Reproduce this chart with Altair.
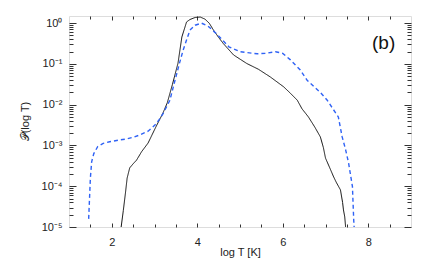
import altair as alt
import pandas as pd

# ---- data (log10 of probability) ----
black_x = [2.22, 2.27, 2.32, 2.36, 2.42, 2.50, 2.58, 2.70, 2.85, 3.03, 3.20, 3.30, 3.42, 3.55, 3.64, 3.75, 3.83,
           3.95, 4.07, 4.18, 4.28, 4.38, 4.50, 4.61, 4.85, 5.16, 5.43, 5.71, 6.02, 6.18, 6.34, 6.45, 6.60,
           6.75, 6.88, 6.95, 7.00, 7.10, 7.19, 7.25, 7.35, 7.40, 7.42, 7.45, 7.47]
black_logy = [-5.0, -4.6, -4.17, -3.8, -3.55, -3.45, -3.36, -3.15, -2.94, -2.55, -2.2, -1.95, -1.5, -0.98,
              -0.34, 0.03, 0.09, 0.14, 0.15, 0.10, 0.0, -0.17, -0.35, -0.50, -0.78, -0.99, -1.13, -1.32,
              -1.56, -1.72, -1.89, -2.10, -2.30, -2.55, -2.79, -3.05, -3.31, -3.55, -3.77, -3.90, -4.09,
              -4.40, -4.58, -4.75, -5.0]

blue_x = [1.46, 1.48, 1.50, 1.53, 1.58, 1.67, 1.80, 1.95, 2.15, 2.35, 2.50, 2.66, 2.85, 3.01, 3.10, 3.20,
          3.36, 3.48, 3.58, 3.67, 3.76, 3.83, 3.95, 4.10, 4.25, 4.46, 4.74, 5.00, 5.40, 5.60, 5.83, 6.00,
          6.18, 6.41, 6.57, 6.88, 7.04, 7.30, 7.39, 7.47, 7.54, 7.63, 7.66, 7.67]
blue_logy = [-4.8, -4.3, -3.8, -3.4, -3.2, -3.03, -2.95, -2.91, -2.87, -2.84, -2.80, -2.74, -2.65, -2.50,
             -2.38, -2.22, -1.89, -1.40, -1.0, -0.66, -0.38, -0.17, -0.05, 0.0, -0.07, -0.27, -0.58, -0.70,
             -0.75, -0.74, -0.70, -0.74, -0.90, -1.15, -1.40, -1.70, -1.89, -2.30, -2.79, -3.10, -3.43,
             -4.01, -4.83, -5.0]

x_major = [2, 4, 6, 8]
x_minor = [1.5, 2.5, 3, 3.5, 4.5, 5, 5.5, 6.5, 7, 7.5, 8.5]
y_major = [1e-5, 1e-4, 1e-3, 1e-2, 1e-1, 1]
y_minor = [m * 10 ** e for e in range(-5, 1) for m in range(2, 10) if m * 10 ** e <= 1.5]

panel_label = ["(b)"]
panel_label_x = [8.36]
panel_label_y = [0.32]

rows = []
for x, ly in zip(black_x, black_logy):
    rows.append({"x": x, "y": 10 ** ly, "s": "black"})
for x, ly in zip(blue_x, blue_logy):
    rows.append({"x": x, "y": 10 ** ly, "s": "blue"})
df = pd.DataFrame(rows)
df_label = pd.DataFrame({"x": panel_label_x, "y": panel_label_y, "t": panel_label})

FONT = "Liberation Sans"
FRAME = "#444444"
TICK = "#333333"
xs = alt.Scale(domain=[1, 9], nice=False, zero=False)
ys = alt.Scale(type="log", domain=[1e-5, 1.5], nice=False)

sup_expr = ("'10' + ['\u2070','\u207b\u00b9','\u207b\u00b2','\u207b\u00b3','\u207b\u2074','\u207b\u2075']"
            "[-round(log(datum.value)/LN10)]")

# main layer with lines and labelled axes
lines = alt.Chart(df).mark_line(clip=True).encode(
    x=alt.X("x:Q", scale=xs, axis=alt.Axis(
        orient="bottom", values=x_major, format="d", tickSize=0, labelPadding=9, domain=False, grid=False,
        labelFont=FONT, labelFontSize=11, labelColor="#222",
        title="log T [K]", titleFont=FONT, titleFontSize=11, titleFontWeight="normal", titleColor="#222",
        titleY=25, titleBaseline="middle")),
    y=alt.Y("y:Q", scale=ys, axis=alt.Axis(
        orient="left", values=y_major, labelExpr=sup_expr, tickSize=0, labelPadding=7, domain=False,
        grid=False, labelFont=FONT, labelFontSize=11, labelColor="#222",
        title="\U0001D4AB(log T)", titleFont=FONT, titleFontSize=11, titleFontWeight="normal",
        titleColor="#222", titleX=-44, titleY=105, titleBaseline="middle", titleAngle=270)),
    color=alt.Color("s:N", scale=alt.Scale(domain=["black", "blue"], range=["#111111", "#2f62f5"]),
                    legend=None),
    strokeDash=alt.StrokeDash("s:N", scale=alt.Scale(domain=["black", "blue"], range=[[1, 0], [4, 3]]),
                              legend=None),
    strokeWidth=alt.StrokeWidth("s:N", scale=alt.Scale(domain=["black", "blue"], range=[1.0, 1.4]),
                                legend=None),
    detail="s:N",
)


def tick_layer(xorient, xvals, xlen, yorient, yvals, ylen):
    return alt.Chart(df).mark_line(strokeOpacity=0).encode(
        x=alt.X("x:Q", scale=xs, title=None, axis=alt.Axis(
            orient=xorient, values=xvals, labels=False, domain=False, grid=False,
            tickSize=xlen, offset=-xlen, tickColor=TICK, tickWidth=1)),
        y=alt.Y("y:Q", scale=ys, title=None, axis=alt.Axis(
            orient=yorient, values=yvals, labels=False, domain=False, grid=False,
            tickSize=ylen, offset=-ylen, tickColor=TICK, tickWidth=1)),
        detail="s:N",
    )


t1 = tick_layer("bottom", x_major, 4, "left", y_major, 7)
t2 = tick_layer("bottom", x_minor, 3, "left", y_minor, 4)
t3 = tick_layer("top", x_major, 4, "right", y_major, 7)
t4 = tick_layer("top", x_minor, 3, "right", y_minor, 4)

label = alt.Chart(df_label).mark_text(font=FONT, fontSize=19, color="#111", align="center",
                                      baseline="middle").encode(
    x=alt.X("x:Q", scale=xs, axis=None),
    y=alt.Y("y:Q", scale=ys, axis=None),
    text="t:N",
)

chart = alt.layer(lines, t1, t2, t3, t4, label).resolve_axis(
    x="independent", y="independent"
).properties(
    width=342, height=211, autosize="none",
    padding={"left": 61, "top": 8, "right": 12, "bottom": 33},
).configure_view(stroke=FRAME, strokeWidth=1).configure(background="white")

chart.save("out.html", embed_options={"renderer": "svg", "actions": False})
